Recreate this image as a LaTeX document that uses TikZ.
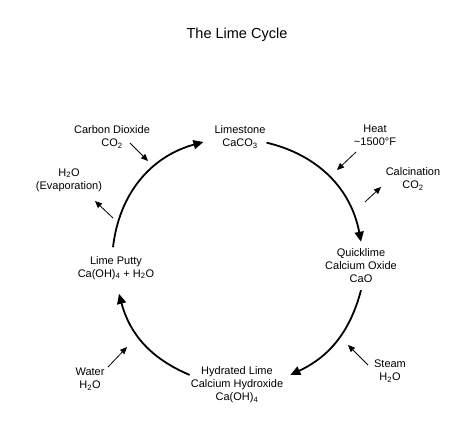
\documentclass[tikz,border=0pt]{standalone}
\usepackage{fontspec}
\setmainfont{Liberation Sans}
\usetikzlibrary{arrows.meta}

\begin{document}
\begin{tikzpicture}[x=1pt, y=1pt, stage/.style={align=center,inner sep=1pt,font=\fontsize{11}{13}\selectfont}, turn/.style={-{Triangle[length=10pt,width=9pt]},line width=1.8pt}, feed/.style={-{Triangle[length=7pt,width=6pt]},line width=0.8pt}]
\useasboundingbox (0,0) rectangle (474,-436);
\node[font=\fontsize{14.5}{17}\selectfont] (title) at (237,-35) {The Lime Cycle};
% the four stages
\node[stage] (lime) at (240,-137) {Limestone\\CaCO\textsubscript{3}};
\node[stage] (quick) at (361,-266) {Quicklime\\Calcium Oxide\\CaO};
\node[stage] (hyd) at (237,-385) {Hydrated Lime\\Calcium Hydroxide\\Ca(OH)\textsubscript{4}};
\node[stage] (putty) at (116,-268) {Lime Putty\\Ca(OH)\textsubscript{4} + H\textsubscript{2}O};
% what goes in and out
\node[stage] (co2) at (112,-137) {Carbon Dioxide\\CO\textsubscript{2}};
\node[stage] (evap) at (69,-180) {H\textsubscript{2}O\\(Evaporation)};
\node[stage] (heat) at (375,-135) {Heat\\\textasciitilde1500°F};
\node[stage] (calc) at (413,-179) {Calcination\\CO\textsubscript{2}};
\node[stage] (steam) at (390,-371) {Steam\\H\textsubscript{2}O};
\node[stage] (water) at (90,-379) {Water\\H\textsubscript{2}O};
\coordinate (co2a) at (130,-143); \coordinate (co2b) at (148,-161);
\coordinate (evapa) at (113,-218); \coordinate (evapb) at (95,-201);
\coordinate (heata) at (356,-152); \coordinate (heatb) at (337,-170);
\coordinate (calca) at (365,-202); \coordinate (calcb) at (381,-187);
\coordinate (steama) at (368,-365); \coordinate (steamb) at (348,-345);
\coordinate (watera) at (108,-367); \coordinate (waterb) at (127,-347);
% the cycle
\draw[turn] (lime.-12) to[bend left=33] ([yshift=6pt]quick.north);
\draw[turn] ([yshift=-6pt]quick.south) to[bend left=25] ([xshift=6pt]hyd.12);
\draw[turn] (hyd.168) to[bend left=26] ([xshift=3pt,yshift=-13pt]putty.south);
\draw[turn] ([xshift=-3pt,yshift=8pt]putty.north) to[bend left=34] ([xshift=-10pt,yshift=-5pt]lime.west);
\draw[feed] (co2a) -- (co2b);
\draw[feed] (evapa) -- (evapb);
\draw[feed] (heata) -- (heatb);
\draw[feed] (calca) -- (calcb);
\draw[feed] (steama) -- (steamb);
\draw[feed] (watera) -- (waterb);
\end{tikzpicture}
\end{document}
